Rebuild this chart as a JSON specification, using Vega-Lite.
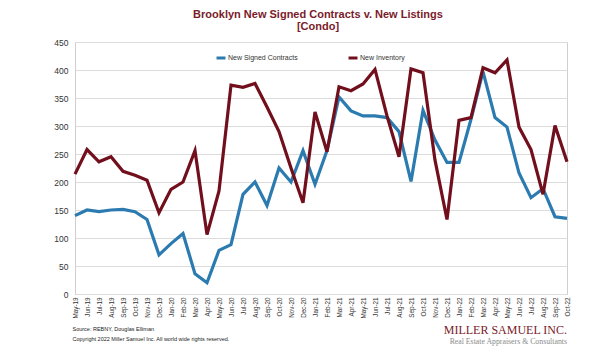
{
  "$schema": "https://vega.github.io/schema/vega-lite/v6.json",
  "autosize": {"type": "none"},
  "padding": {"left": 75, "top": 42, "right": 33, "bottom": 67},
  "width": 492,
  "height": 252,
  "background": "white",
  "config": {
    "font": "Liberation Sans",
    "view": {"stroke": "#cfcfcf", "strokeWidth": 1}
  },
  "title": {
    "text": ["Brooklyn New Signed Contracts v. New Listings", "[Condo]"],
    "fontSize": 11,
    "fontWeight": "bold",
    "color": "#7a1b2a",
    "font": "Liberation Sans",
    "anchor": "middle",
    "dx": -3,
    "offset": 6,
    "lineHeight": 12.5
  },
  "data": {
    "values": [
      {"month": "May-19", "series": "New Signed Contracts", "value": 140},
      {"month": "Jun-19", "series": "New Signed Contracts", "value": 150},
      {"month": "Jul-19", "series": "New Signed Contracts", "value": 147},
      {"month": "Aug-19", "series": "New Signed Contracts", "value": 150},
      {"month": "Sep-19", "series": "New Signed Contracts", "value": 151},
      {"month": "Oct-19", "series": "New Signed Contracts", "value": 147},
      {"month": "Nov-19", "series": "New Signed Contracts", "value": 133},
      {"month": "Dec-19", "series": "New Signed Contracts", "value": 70},
      {"month": "Jan-20", "series": "New Signed Contracts", "value": 90},
      {"month": "Feb-20", "series": "New Signed Contracts", "value": 108},
      {"month": "Mar-20", "series": "New Signed Contracts", "value": 36},
      {"month": "Apr-20", "series": "New Signed Contracts", "value": 20},
      {"month": "May-20", "series": "New Signed Contracts", "value": 78},
      {"month": "Jun-20", "series": "New Signed Contracts", "value": 88},
      {"month": "Jul-20", "series": "New Signed Contracts", "value": 178},
      {"month": "Aug-20", "series": "New Signed Contracts", "value": 200},
      {"month": "Sep-20", "series": "New Signed Contracts", "value": 158},
      {"month": "Oct-20", "series": "New Signed Contracts", "value": 225},
      {"month": "Nov-20", "series": "New Signed Contracts", "value": 200},
      {"month": "Dec-20", "series": "New Signed Contracts", "value": 256},
      {"month": "Jan-21", "series": "New Signed Contracts", "value": 196},
      {"month": "Feb-21", "series": "New Signed Contracts", "value": 256},
      {"month": "Mar-21", "series": "New Signed Contracts", "value": 352},
      {"month": "Apr-21", "series": "New Signed Contracts", "value": 327},
      {"month": "May-21", "series": "New Signed Contracts", "value": 318},
      {"month": "Jun-21", "series": "New Signed Contracts", "value": 318},
      {"month": "Jul-21", "series": "New Signed Contracts", "value": 315},
      {"month": "Aug-21", "series": "New Signed Contracts", "value": 290},
      {"month": "Sep-21", "series": "New Signed Contracts", "value": 201},
      {"month": "Oct-21", "series": "New Signed Contracts", "value": 328},
      {"month": "Nov-21", "series": "New Signed Contracts", "value": 275},
      {"month": "Dec-21", "series": "New Signed Contracts", "value": 235},
      {"month": "Jan-22", "series": "New Signed Contracts", "value": 235},
      {"month": "Feb-22", "series": "New Signed Contracts", "value": 312},
      {"month": "Mar-22", "series": "New Signed Contracts", "value": 397},
      {"month": "Apr-22", "series": "New Signed Contracts", "value": 315},
      {"month": "May-22", "series": "New Signed Contracts", "value": 298},
      {"month": "Jun-22", "series": "New Signed Contracts", "value": 216},
      {"month": "Jul-22", "series": "New Signed Contracts", "value": 172},
      {"month": "Aug-22", "series": "New Signed Contracts", "value": 188},
      {"month": "Sep-22", "series": "New Signed Contracts", "value": 138},
      {"month": "Oct-22", "series": "New Signed Contracts", "value": 135},
      {"month": "May-19", "series": "New Inventory", "value": 214},
      {"month": "Jun-19", "series": "New Inventory", "value": 258},
      {"month": "Jul-19", "series": "New Inventory", "value": 236},
      {"month": "Aug-19", "series": "New Inventory", "value": 245},
      {"month": "Sep-19", "series": "New Inventory", "value": 219},
      {"month": "Oct-19", "series": "New Inventory", "value": 212},
      {"month": "Nov-19", "series": "New Inventory", "value": 203},
      {"month": "Dec-19", "series": "New Inventory", "value": 145},
      {"month": "Jan-20", "series": "New Inventory", "value": 187},
      {"month": "Feb-20", "series": "New Inventory", "value": 200},
      {"month": "Mar-20", "series": "New Inventory", "value": 256},
      {"month": "Apr-20", "series": "New Inventory", "value": 106},
      {"month": "May-20", "series": "New Inventory", "value": 184},
      {"month": "Jun-20", "series": "New Inventory", "value": 373},
      {"month": "Jul-20", "series": "New Inventory", "value": 369},
      {"month": "Aug-20", "series": "New Inventory", "value": 376},
      {"month": "Sep-20", "series": "New Inventory", "value": 334},
      {"month": "Oct-20", "series": "New Inventory", "value": 290},
      {"month": "Nov-20", "series": "New Inventory", "value": 225},
      {"month": "Dec-20", "series": "New Inventory", "value": 163},
      {"month": "Jan-21", "series": "New Inventory", "value": 325},
      {"month": "Feb-21", "series": "New Inventory", "value": 254},
      {"month": "Mar-21", "series": "New Inventory", "value": 370},
      {"month": "Apr-21", "series": "New Inventory", "value": 363},
      {"month": "May-21", "series": "New Inventory", "value": 375},
      {"month": "Jun-21", "series": "New Inventory", "value": 401},
      {"month": "Jul-21", "series": "New Inventory", "value": 318},
      {"month": "Aug-21", "series": "New Inventory", "value": 245},
      {"month": "Sep-21", "series": "New Inventory", "value": 402},
      {"month": "Oct-21", "series": "New Inventory", "value": 395},
      {"month": "Nov-21", "series": "New Inventory", "value": 239},
      {"month": "Dec-21", "series": "New Inventory", "value": 133},
      {"month": "Jan-22", "series": "New Inventory", "value": 310},
      {"month": "Feb-22", "series": "New Inventory", "value": 315},
      {"month": "Mar-22", "series": "New Inventory", "value": 404},
      {"month": "Apr-22", "series": "New Inventory", "value": 395},
      {"month": "May-22", "series": "New Inventory", "value": 418},
      {"month": "Jun-22", "series": "New Inventory", "value": 298},
      {"month": "Jul-22", "series": "New Inventory", "value": 258},
      {"month": "Aug-22", "series": "New Inventory", "value": 178},
      {"month": "Sep-22", "series": "New Inventory", "value": 301},
      {"month": "Oct-22", "series": "New Inventory", "value": 236}
    ]
  },
  "encoding": {
    "x": {
      "field": "month",
      "type": "ordinal",
      "sort": null,
      "scale": {"type": "point", "padding": 0},
      "axis": {
        "title": ["Source: REBNY, Douglas Elliman", "Copyright 2022 Miller Samuel Inc.  All world wide rights reserved."],
        "titleFontSize": 5.5,
        "titleFontWeight": "normal",
        "titleColor": "#222222",
        "titleAnchor": "start",
        "titleAlign": "left",
        "titleBaseline": "top",
        "titleLineHeight": 10,
        "titleX": -3,
        "titleY": 32,
        "labelAngle": -90,
        "labelFontSize": 6.3,
        "labelColor": "#333333",
        "labelPadding": 3,
        "ticks": false,
        "domain": false,
        "grid": false
      }
    },
    "y": {
      "field": "value",
      "type": "quantitative",
      "scale": {"domain": [0, 450]},
      "axis": {
        "title": null,
        "values": [0, 50, 100, 150, 200, 250, 300, 350, 400, 450],
        "labelOverlap": false,
        "labelFontSize": 8.5,
        "labelColor": "#333333",
        "labelPadding": 7,
        "ticks": false,
        "domain": false,
        "gridColor": "#dcdcdc",
        "gridWidth": 1
      }
    }
  },
  "layer": [
    {
      "mark": {"type": "line", "strokeWidth": 3.2, "strokeJoin": "miter"},
      "encoding": {
        "color": {
          "field": "series",
          "type": "nominal",
          "sort": ["New Signed Contracts", "New Inventory"],
          "scale": {"domain": ["New Signed Contracts", "New Inventory"], "range": ["#2b7bb0", "#720f1d"]},
          "legend": {
            "title": null,
            "orient": "none",
            "direction": "horizontal",
            "legendX": 140,
            "legendY": 10,
            "symbolType": "stroke",
            "symbolSize": 80,
            "symbolStrokeWidth": 3,
            "labelFontSize": 7,
            "labelColor": "#333333",
            "labelOffset": 1,
            "columnPadding": 44
          }
        }
      }
    },
    {
      "transform": [{"filter": "datum.month === 'Oct-22' && datum.series === 'New Signed Contracts'"}],
      "mark": {"type": "text", "align": "right", "baseline": "alphabetic", "dy": 115.5, "font": "Liberation Serif", "fontSize": 12, "color": "#7a1b2a"},
      "encoding": {
        "text": {"value": "MILLER SAMUEL INC."}
      }
    },
    {
      "transform": [{"filter": "datum.month === 'Oct-22' && datum.series === 'New Signed Contracts'"}],
      "mark": {"type": "text", "align": "right", "baseline": "alphabetic", "dy": 125.5, "font": "Liberation Serif", "fontSize": 7.8, "color": "#8a8a8a"},
      "encoding": {
        "text": {"value": "Real Estate Appraisers & Consultants"}
      }
    }
  ]
}
